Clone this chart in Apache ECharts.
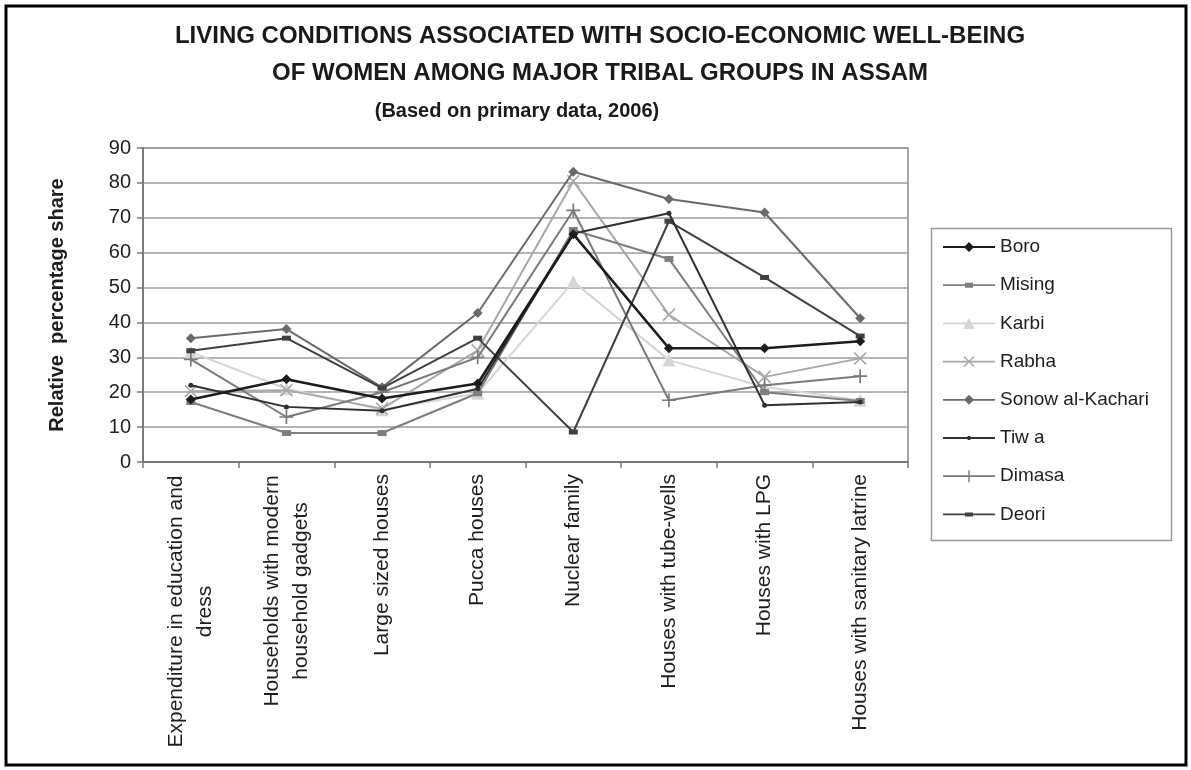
<!DOCTYPE html>
<html>
<head>
<meta charset="utf-8">
<script src="https://cdn.jsdelivr.net/npm/echarts@6/dist/echarts.min.js"></script>
<style>
html,body{margin:0;padding:0;background:#fff;}
#c{width:1191px;height:770px;}
</style>
</head>
<body>
<div id="c"></div>
<script>
// ---- data ----
const categories = [
  "Expenditure in education and\ndress",
  "Households with modern\nhousehold gadgets",
  "Large sized houses",
  "Pucca houses",
  "Nuclear family",
  "Houses with tube-wells",
  "Houses with LPG",
  "Houses with sanitary latrine"
];
const seriesNames = ["Boro", "Mising", "Karbi", "Rabha", "Sonow al-Kachari", "Tiw a", "Dimasa", "Deori"];
const boro    = [17.9, 23.7, 18.2, 22.5, 65.3, 32.6, 32.6, 34.6];
const mising  = [17.2,  8.3,  8.3, 19.7, 66.5, 58.2, 20.0, 17.5];
const karbi   = [31.5, 21.0, 15.0, 19.7, 51.7, 29.2, 21.5, 17.7];
const rabha   = [20.3, 20.6, 15.3, 32.0, 80.5, 42.2, 24.4, 29.7];
const sonowal = [35.5, 38.1, 21.4, 42.7, 83.2, 75.4, 71.5, 41.2];
const tiwa    = [22.0, 15.8, 14.7, 21.0, 65.5, 71.3, 16.3, 17.2];
const dimasa  = [29.4, 12.9, 20.0, 30.0, 72.1, 17.7, 22.0, 24.6];
const deori   = [31.9, 35.5, 21.2, 35.5,  8.6, 69.0, 52.9, 36.1];
const yMin = 0, yMax = 90, yStep = 10;

// ---- styles ----
const FONT = '"Liberation Sans", Arial, Helvetica, sans-serif';
const PLUS = 'path://M4.4,0H5.6V4.4H10V5.6H5.6V10H4.4V5.6H0V4.4H4.4Z';
const CROSS = 'path://M0,0.9L0.9,0L5,4.1L9.1,0L10,0.9L5.9,5L10,9.1L9.1,10L5,5.9L0.9,10L0,9.1L4.1,5Z';
// legend icons: a 52px line with a small marker in the middle
const LINE = 'M0,6.1H52V7.9H0Z ';
const LEG = {
  diamond: 'path://' + LINE + 'M21,7L26,2L31,7L26,12Z',
  rect:    'path://' + LINE + 'M22,4.5H30V9.5H22Z',
  tri:     'path://' + LINE + 'M20,12.5L26,1.5L32,12.5Z',
  cross:   'path://' + LINE + 'M20.5,2.5L21.5,1.5L31.5,11.5L30.5,12.5Z M30.5,1.5L31.5,2.5L21.5,12.5L20.5,11.5Z',
  dot:     'path://' + LINE + 'M24.6,5H27.4V9H24.6Z',
  plus:    'path://' + LINE + 'M25.3,1H26.7V13H25.3Z',
  dash:    'path://' + LINE + 'M22,5H30V9H22Z'
};
const styles = [
  {data: boro,    color: '#1c1c1c', symbol: 'diamond', size: 10, width: 2.6, z: 9, icon: LEG.diamond},
  {data: mising,  color: '#7e7e7e', symbol: 'rect', size: [9, 6], width: 2, z: 4, icon: LEG.rect},
  {data: karbi,   color: '#d6d6d6', symbol: 'triangle', size: 13, width: 2, z: 2, icon: LEG.tri},
  {data: rabha,   color: '#a8a8a8', symbol: CROSS, size: 13, width: 2, z: 3, icon: LEG.cross},
  {data: sonowal, color: '#6a6a6a', symbol: 'diamond', size: 10, width: 2, z: 5, icon: LEG.diamond},
  {data: tiwa,    color: '#303030', symbol: 'circle', size: 5, width: 2, z: 8, icon: LEG.dot},
  {data: dimasa,  color: '#7a7a7a', symbol: PLUS, size: 14, width: 2, z: 6, icon: LEG.plus},
  {data: deori,   color: '#404040', symbol: 'rect', size: [9, 5], width: 2, z: 7, icon: LEG.dash}
];

// measure line widths for centred multi-line labels
const LABEL_FS = 21;
const ctx = document.createElement('canvas').getContext('2d');
ctx.font = LABEL_FS + 'px ' + FONT;
const rich = {};
categories.forEach((c, i) => {
  const lines = c.split('\n');
  if (lines.length > 1) {
    const w = Math.max(...lines.map(l => ctx.measureText(l).width));
    rich['c' + i] = {width: Math.ceil(w) + 2, align: 'center', fontSize: LABEL_FS, lineHeight: 29, fontFamily: FONT, color: '#1e1e1e'};
  }
});

const chart = echarts.init(document.getElementById('c'), null, {renderer: 'canvas'});
const option = {
  backgroundColor: '#ffffff',
  animation: false,
  graphic: [
    {type: 'rect', shape: {x: 6, y: 6, width: 1180, height: 759}, style: {fill: 'none', stroke: '#000', lineWidth: 3}, silent: true},
    {type: 'rect', shape: {x: 931.5, y: 228.5, width: 240, height: 312}, style: {fill: 'none', stroke: '#9a9a9a', lineWidth: 1.5}, silent: true},
    {type: 'text', x: 600, y: 36, style: {text: 'LIVING CONDITIONS ASSOCIATED WITH SOCIO-ECONOMIC WELL-BEING', align: 'center', verticalAlign: 'middle', textAlign: 'center', textVerticalAlign: 'middle', font: 'bold 24px ' + FONT, fill: '#1a1a1a'}},
    {type: 'text', x: 600, y: 73, style: {text: 'OF WOMEN AMONG MAJOR TRIBAL GROUPS IN ASSAM', align: 'center', verticalAlign: 'middle', textAlign: 'center', textVerticalAlign: 'middle', font: 'bold 24px ' + FONT, fill: '#1a1a1a'}},
    {type: 'text', x: 517, y: 111, style: {text: '(Based on primary data, 2006)', align: 'center', verticalAlign: 'middle', textAlign: 'center', textVerticalAlign: 'middle', font: 'bold 20px ' + FONT, fill: '#1a1a1a'}}
  ],
  legend: {
    orient: 'vertical',
    left: 943,
    top: 237,
    padding: 0,
    itemWidth: 52,
    itemHeight: 14,
    itemGap: 18.2,
    data: seriesNames.map((n, i) => ({name: n, icon: styles[i].icon})),
    textStyle: {fontSize: 19, fontFamily: FONT, color: '#1e1e1e', lineHeight: 20}
  },
  grid: {left: 143, right: 283, top: 148, bottom: 308, show: true, borderColor: '#8a8a8a', borderWidth: 1.5, containLabel: false},
  xAxis: {
    type: 'category',
    data: categories,
    boundaryGap: true,
    axisLine: {show: true, lineStyle: {color: '#7a7a7a', width: 2}},
    axisTick: {show: true, length: 6, lineStyle: {color: '#7a7a7a', width: 1.5}},
    axisLabel: {
      interval: 0, rotate: 90, margin: 12,
      fontSize: LABEL_FS, fontFamily: FONT, color: '#1e1e1e', lineHeight: 29,
      rich: rich,
      formatter: function (v, i) {
        const lines = v.split('\n');
        if (lines.length > 1) return lines.map(l => '{c' + i + '|' + l + '}').join('\n');
        return v;
      }
    },
    splitLine: {show: false}
  },
  yAxis: {
    type: 'value',
    min: yMin, max: yMax, interval: yStep,
    name: 'Relative  percentage share',
    nameLocation: 'middle',
    nameGap: 76,
    nameTextStyle: {fontSize: 20, fontWeight: 'bold', fontFamily: FONT, color: '#1e1e1e'},
    axisLine: {show: true, lineStyle: {color: '#7a7a7a', width: 2}},
    axisTick: {show: true, length: 6, lineStyle: {color: '#7a7a7a', width: 1.5}},
    axisLabel: {fontSize: 20, fontFamily: FONT, color: '#1e1e1e', margin: 12},
    splitLine: {show: true, lineStyle: {color: '#9c9c9c', width: 1.6}}
  },
  series: styles.map((s, i) => ({
    name: seriesNames[i],
    type: 'line',
    data: s.data,
    symbol: s.symbol,
    symbolSize: s.size,
    showAllSymbol: true,
    z: s.z,
    lineStyle: {color: s.color, width: s.width},
    itemStyle: {color: s.color, borderColor: s.color, borderWidth: 0},
    emphasis: {disabled: true}
  }))
};
chart.setOption(option);
</script>
</body>
</html>
